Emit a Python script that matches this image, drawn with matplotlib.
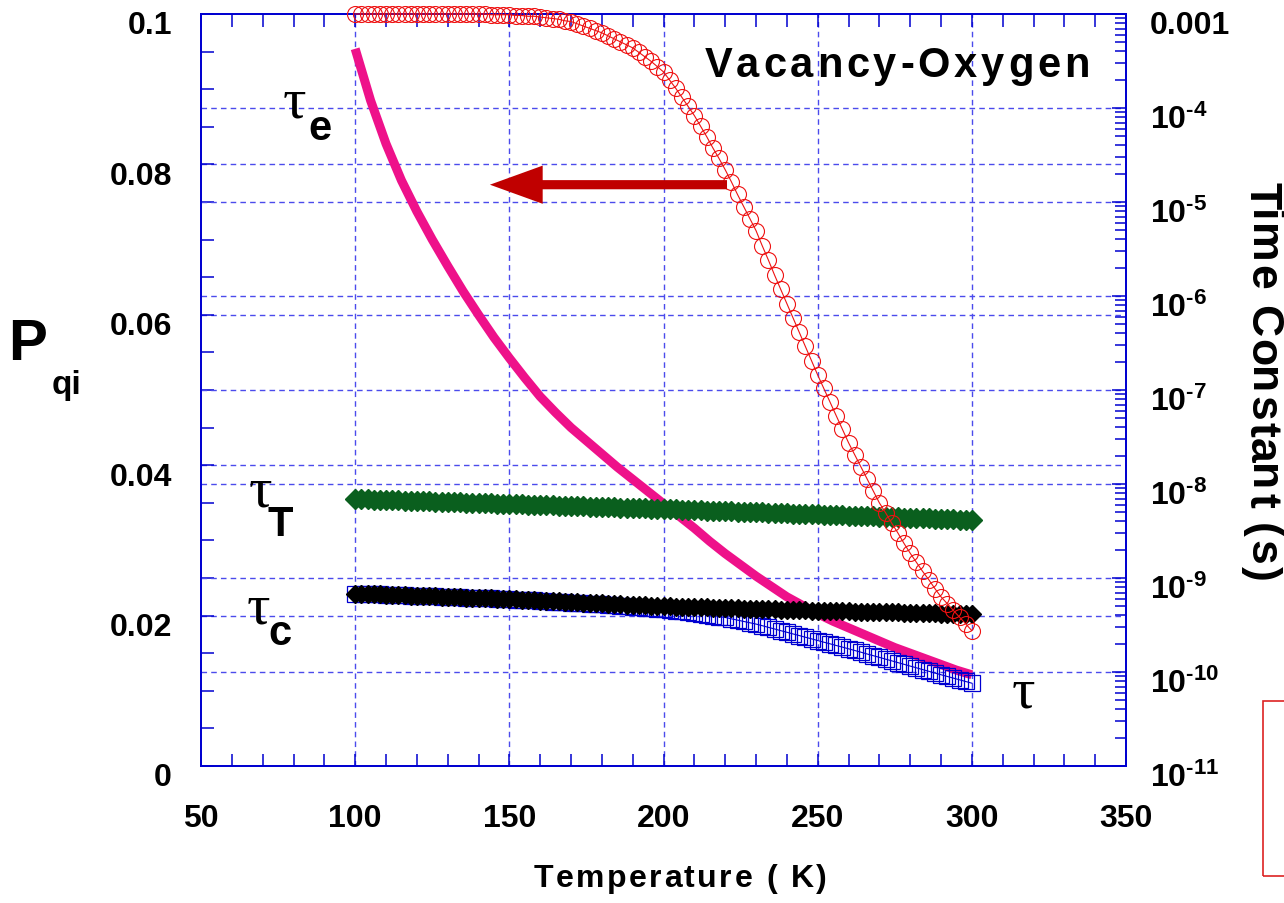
import numpy as np
import matplotlib
matplotlib.use('Agg')
import matplotlib.pyplot as plt
from matplotlib.patches import Rectangle
from matplotlib.ticker import MultipleLocator, FixedLocator, FixedFormatter, LogLocator, NullFormatter
from matplotlib.transforms import ScaledTranslation
from matplotlib.font_manager import FontProperties, findfont, get_font

plt.rcParams['font.family'] = ['Liberation Sans', 'DejaVu Sans']
plt.rcParams['font.weight'] = 'bold'
plt.rcParams['mathtext.fontset'] = 'custom'
plt.rcParams['mathtext.rm'] = 'Liberation Sans:bold'
plt.rcParams['mathtext.bf'] = 'Liberation Sans:bold'
plt.rcParams['mathtext.it'] = 'Liberation Sans:bold'

W, H = 1284, 904

# temperature grid of the marker series (K)
temps = np.arange(100, 301, 2)

# P_qi, left axis (red circles)
p_qi = [0.1000, 0.1000, 0.1000, 0.1000, 0.1000, 0.1000, 0.1000, 0.1000, 0.1000, 0.1000,
        0.1000, 0.1000, 0.1000, 0.1000, 0.1000, 0.1000, 0.1000, 0.1000, 0.1000, 0.1000,
        0.1000, 0.1000, 0.0999, 0.0999, 0.0999, 0.0999, 0.0998, 0.0998, 0.0997, 0.0997,
        0.0996, 0.0995, 0.0994, 0.0993, 0.0991, 0.0990, 0.0987, 0.0984, 0.0981, 0.0978,
        0.0975, 0.0971, 0.0967, 0.0963, 0.0959, 0.0955, 0.0949, 0.0943, 0.0937, 0.0930,
        0.0923, 0.0912, 0.0901, 0.0889, 0.0877, 0.0865, 0.0851, 0.0837, 0.0822, 0.0808,
        0.0793, 0.0777, 0.0760, 0.0744, 0.0728, 0.0712, 0.0692, 0.0673, 0.0653, 0.0634,
        0.0615, 0.0596, 0.0577, 0.0558, 0.0539, 0.0520, 0.0502, 0.0484, 0.0466, 0.0448,
        0.0430, 0.0414, 0.0398, 0.0382, 0.0366, 0.0350, 0.0337, 0.0323, 0.0310, 0.0296,
        0.0283, 0.0271, 0.0259, 0.0248, 0.0236, 0.0225, 0.0216, 0.0207, 0.0198, 0.0189,
        0.0180]

# log10 of time constants (s), right axis
log_tau_T = [-8.160, -8.162, -8.164, -8.166, -8.168, -8.171, -8.173, -8.175, -8.177, -8.179,
             -8.181, -8.183, -8.185, -8.188, -8.190, -8.192, -8.194, -8.196, -8.198, -8.200,
             -8.202, -8.205, -8.207, -8.209, -8.211, -8.213, -8.215, -8.217, -8.219, -8.222,
             -8.224, -8.226, -8.228, -8.230, -8.232, -8.234, -8.236, -8.239, -8.241, -8.243,
             -8.245, -8.247, -8.249, -8.251, -8.253, -8.256, -8.258, -8.260, -8.262, -8.264,
             -8.266, -8.268, -8.271, -8.273, -8.275, -8.278, -8.280, -8.282, -8.285, -8.287,
             -8.289, -8.292, -8.294, -8.296, -8.299, -8.301, -8.303, -8.306, -8.308, -8.310,
             -8.313, -8.315, -8.317, -8.320, -8.322, -8.324, -8.327, -8.329, -8.331, -8.334,
             -8.336, -8.338, -8.341, -8.343, -8.345, -8.348, -8.350, -8.352, -8.355, -8.357,
             -8.359, -8.362, -8.364, -8.366, -8.369, -8.371, -8.373, -8.376, -8.378, -8.380,
             -8.383]

log_tau_c = [-9.165, -9.167, -9.170, -9.172, -9.175, -9.177, -9.179, -9.182, -9.184, -9.187,
             -9.189, -9.191, -9.194, -9.196, -9.199, -9.201, -9.203, -9.206, -9.208, -9.211,
             -9.213, -9.215, -9.218, -9.220, -9.223, -9.225, -9.228, -9.231, -9.234, -9.237,
             -9.240, -9.243, -9.246, -9.249, -9.252, -9.255, -9.258, -9.261, -9.264, -9.267,
             -9.270, -9.273, -9.276, -9.279, -9.282, -9.285, -9.288, -9.291, -9.294, -9.297,
             -9.300, -9.302, -9.304, -9.306, -9.308, -9.310, -9.312, -9.313, -9.315, -9.317,
             -9.319, -9.321, -9.323, -9.325, -9.327, -9.329, -9.331, -9.333, -9.335, -9.336,
             -9.338, -9.340, -9.342, -9.344, -9.346, -9.348, -9.349, -9.351, -9.352, -9.354,
             -9.355, -9.357, -9.358, -9.360, -9.361, -9.363, -9.364, -9.366, -9.367, -9.369,
             -9.370, -9.372, -9.373, -9.375, -9.376, -9.378, -9.379, -9.381, -9.382, -9.384,
             -9.385]

log_tau = [-9.165, -9.167, -9.170, -9.172, -9.175, -9.177, -9.179, -9.182, -9.184, -9.187,
           -9.189, -9.191, -9.194, -9.196, -9.199, -9.201, -9.203, -9.206, -9.208, -9.211,
           -9.213, -9.215, -9.218, -9.220, -9.223, -9.226, -9.229, -9.233, -9.236, -9.239,
           -9.243, -9.246, -9.250, -9.254, -9.257, -9.261, -9.265, -9.269, -9.273, -9.277,
           -9.281, -9.285, -9.290, -9.295, -9.300, -9.305, -9.310, -9.316, -9.321, -9.327,
           -9.334, -9.341, -9.348, -9.355, -9.362, -9.369, -9.379, -9.389, -9.400, -9.410,
           -9.420, -9.434, -9.448, -9.462, -9.476, -9.490, -9.507, -9.525, -9.542, -9.560,
           -9.577, -9.595, -9.612, -9.630, -9.647, -9.665, -9.683, -9.700, -9.718, -9.735,
           -9.753, -9.771, -9.789, -9.808, -9.826, -9.844, -9.863, -9.881, -9.900, -9.918,
           -9.937, -9.955, -9.974, -9.992, -10.011, -10.029, -10.047, -10.065, -10.083, -10.101,
           -10.119]

# emission time constant, thick line (5 K steps)
temps_e = np.arange(100, 301, 5)
log_tau_e = [-3.37, -3.92, -4.38, -4.77, -5.10, -5.40, -5.68, -5.95, -6.20, -6.44,
             -6.66, -6.87, -7.07, -7.24, -7.40, -7.54, -7.68, -7.82, -7.95, -8.08,
             -8.21, -8.34, -8.47, -8.61, -8.74, -8.86, -8.98, -9.09, -9.20, -9.29,
             -9.38, -9.46, -9.53, -9.60, -9.67, -9.74, -9.80, -9.86, -9.92, -9.98,
             -10.03]

left_ticks = [0, 0.02, 0.04, 0.06, 0.08, 0.1]
left_labels = ['0', '0.02', '0.04', '0.06', '0.08', '0.1']
right_ticks = [1e-11, 1e-10, 1e-9, 1e-8, 1e-7, 1e-6, 1e-5, 1e-4, 1e-3]
right_labels = ['$\\mathbf{10^{\u2010%d}}$' % e for e in range(11, 3, -1)] + ['0.001']

blue = '#0000d0'
gridc = '#4b4bec'
dash = (0, (4, 3))

fig = plt.figure(figsize=(W / 100, H / 100), dpi=100)
ax = fig.add_axes([201 / W, 1 - 767 / H, (1126 - 201) / W, (767 - 15) / H])
ax2 = ax.twinx()

ax.set_xlim(50, 350)
ax.set_ylim(0, 0.1)
ax2.set_yscale('log')
ax2.set_ylim(1e-11, 1e-3)

# grids
for t in [100, 150, 200, 250, 300]:
    ax.axvline(t, color=gridc, lw=1.0, ls=dash, zorder=0)
for v in left_ticks[1:-1]:
    ax.axhline(v, color=gridc, lw=1.0, ls=dash, zorder=0)
for v in right_ticks[1:-1]:
    ax2.axhline(v, color=gridc, lw=1.0, ls=dash, zorder=0.5)

# curves
ax2.plot(temps_e, 10 ** np.array(log_tau_e), color='#ee118a', lw=6.5,
         solid_capstyle='butt', solid_joinstyle='round', zorder=1)
ax2.plot(temps, 10 ** np.array(log_tau), color=blue, lw=0.8, marker='s', ms=12,
         mfc='none', mec=blue, mew=0.9, zorder=2)
ax2.plot(temps, 10 ** np.array(log_tau_T), color='#0a5f1e', lw=0, marker='D', ms=10.5,
         mec='#0a5f1e', zorder=3)
ax2.plot(temps, 10 ** np.array(log_tau_c), color='black', lw=0, marker='D', ms=9.5,
         mec='black', zorder=4)
ax2.plot(temps, p_qi, transform=ax.transData, color='#ee1111', lw=0.8, marker='o', ms=11.5,
         mfc='none', mec='#ee1111', mew=0.8, zorder=5, clip_on=False)

ax2.annotate('', xy=(143.7, 0.0773), xytext=(220.6, 0.0773),
             xycoords=ax.transData, textcoords=ax.transData,
             arrowprops=dict(arrowstyle='simple,head_length=3.8,head_width=2.75,tail_width=0.66',
                             mutation_scale=10, color='#c00000', lw=0,
                             shrinkA=0, shrinkB=0), zorder=6)

# axes styling
for a in (ax, ax2):
    for s in a.spines.values():
        s.set_color(blue)
        s.set_linewidth(1.3)

ax.xaxis.set_major_locator(MultipleLocator(50))
ax.xaxis.set_minor_locator(MultipleLocator(10))
ax.xaxis.set_ticks_position('both')
ax.yaxis.set_major_locator(FixedLocator(left_ticks))
ax.yaxis.set_major_formatter(FixedFormatter(left_labels))
ax.yaxis.set_minor_locator(MultipleLocator(0.005))
ax.tick_params(axis='both', which='both', direction='in', color=blue, width=1.1,
               length=9, labelsize=23, labelcolor='black')
ax.tick_params(axis='x', which='both', pad=27)
ax.tick_params(axis='y', which='both', pad=21)

ax2.yaxis.set_major_locator(FixedLocator(right_ticks))
ax2.yaxis.set_major_formatter(FixedFormatter(right_labels))
ax2.yaxis.set_minor_locator(LogLocator(base=10, subs=np.arange(2, 10), numticks=20))
ax2.yaxis.set_minor_formatter(NullFormatter())
ax2.tick_params(axis='y', which='major', direction='in', color=blue, width=1.1,
                length=10, labelsize=23, pad=17)
ax2.tick_params(axis='y', which='minor', direction='in', color=blue, width=1.1, length=8)

off = ScaledTranslation(0, -8 / 100, fig.dpi_scale_trans)
for lab in ax.get_yticklabels() + ax2.get_yticklabels():
    lab.set_transform(lab.get_transform() + off)


def px(x, y):
    return x / W, 1 - y / H


def advances(s, size):
    f = get_font(findfont(FontProperties(family='Liberation Sans', weight='bold')),
                 hinting_factor=1)
    f.set_size(size, 100)
    return [f.load_char(ord(c)).linearHoriAdvance / 65536 for c in s]


def spaced(x, y, s, size, gap, vertical=False):
    # letter-spaced text, centred on (x, y) along its direction
    adv = advances(s, size)
    pos = -(sum(adv) + gap * (len(s) - 1)) / 2
    for c, a in zip(s, adv):
        if vertical:
            fig.text(*px(x, y + pos), c, fontsize=size, fontweight='bold', rotation=270,
                     rotation_mode='anchor', ha='left', va='baseline')
        else:
            fig.text(*px(x + pos, y), c, fontsize=size, fontweight='bold',
                     ha='left', va='baseline')
        pos += a + gap


fig.text(*px(8, 360), 'P', fontsize=42, fontweight='bold', ha='left', va='baseline')
fig.text(*px(52, 394), 'qi', fontsize=24, fontweight='bold', ha='left', va='baseline')
spaced(1250, 381, 'Time Constant (s)', 32, 1.7, vertical=True)
spaced(680, 887, 'Temperature ( K)', 23, 2.5)
spaced(897, 77, 'Vacancy-Oxygen', 30, 3.6)

serif = ['Liberation Serif', 'DejaVu Serif']
for tx, ty, sub, sx, sy in [(283, 118, 'e', 308, 140), (249, 507, 'T', 268, 536),
                            (247, 623, 'c', 268, 645), (1012, 708, '', 0, 0)]:
    fig.text(*px(tx, ty), '\u03c4', fontsize=42, family=serif, fontweight='normal',
             ha='left', va='baseline')
    if sub:
        fig.text(*px(sx, sy), sub, fontsize=30, fontweight='bold', ha='left', va='baseline')

fig.patches.append(Rectangle(px(1263, 877), 60 / W, (877 - 702) / H, fill=False,
                             edgecolor='#dd2222', lw=1.2, transform=fig.transFigure))

fig.savefig('out.png', dpi=100)
